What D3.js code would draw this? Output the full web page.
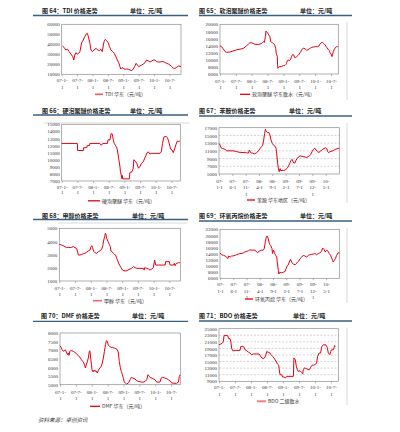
<!DOCTYPE html>
<html><head><meta charset="utf-8">
<script src="https://cdn.jsdelivr.net/npm/d3@7"></script>
<style>
body{margin:0;background:#fff}
svg{display:block}
.title{font-family:"Noto Sans CJK SC",sans-serif;font-size:6px;font-weight:700;fill:#222}
.tick text{font-family:"Liberation Serif",serif;font-size:5px;fill:#333}
.leg{font-family:"Noto Sans CJK SC",sans-serif;font-size:5px;fill:#333}
.foot{font-family:"Noto Sans CJK SC",sans-serif;font-size:5.5px;font-style:italic;fill:#333}
</style></head><body>
<svg id="c" width="400" height="432"></svg>
<script>
// ---------- data (month index from 2007-01, price in 元/吨) ----------
const tdiMonth=[0.3,0.9,1.6,2.3,2.9,3.6,4.3,4.7,5.1,5.6,6.1,6.6,7.1,7.8,8.4,9.0,9.5,10.0,10.4,11.0,11.4,11.9,12.6,13.4,14.0,14.7,15.3,15.8,16.5,17.0,17.5,18.1,18.6,19.2,19.9,20.5,21.0,21.7,22.2,22.7,23.0,23.5,24.0,24.7,25.3,26.0,26.6,27.3,27.9,28.4,29.0,29.5,30.0,30.5,31.2,31.8,32.5,33.1,33.8,34.4,35.1,35.7,36.4,37.0,37.7,38.3,39.0,39.6,40.3,40.9,41.6,42.2,42.9,43.5,44.2,44.8,45.5,46.1,46.5];
const tdiPrice=[38300,37000,34300,35000,32700,30300,27700,24300,29300,31700,30000,31000,32700,41700,44300,47700,50000,51000,47700,41000,34300,32700,34300,36000,34300,33700,35000,32700,42700,45000,43700,41700,37700,34300,32700,31000,28300,24300,21700,17700,15300,16700,16000,15000,15300,15000,14300,13700,15300,17700,21000,19300,17700,18300,19300,20300,21700,24300,23300,22300,23300,24300,24300,22700,22300,22300,22700,22700,21700,21000,20300,19300,17700,16000,16000,17000,18300,18000,17700];

const softMonth=[0,0.6,1.3,1.9,2.5,3.8,5.0,6.3,7.6,8.8,9.5,10.1,10.7,11.3,12.0,12.6,13.2,14.5,15.8,16.1,16.4,16.8,17.2,17.4,17.8,18.2,18.5,18.9,19.2,19.5,19.9,20.3,20.7,21.1,21.3,21.7,21.8,21.9,22.2,22.7,23.3,24.0,24.6,25.0,25.2,25.5,25.9,26.2,26.7,27.1,27.5,27.9,28.2,28.6,29.0,29.5,30.0,30.3,30.6,30.9,31.5,32.2,32.8,33.3,33.8,34.3,34.8,35.3,36.3,36.9,37.5,37.8,38.3,38.8,39.3,39.8,40.4,40.9,41.4,41.7,42.1,42.4,42.6,42.9,43.3,43.6,44.1,44.6];
const softPrice=[13900,13700,13000,12300,12100,12200,12500,12800,13000,13200,13600,14000,14400,14800,14800,14600,14400,14300,14600,14900,15100,14900,16500,18100,17800,17300,17000,16500,15100,14900,14800,14600,14200,13200,11800,10900,8500,7600,7900,8100,8100,8400,8400,8700,9000,9800,9900,9700,10100,10900,11500,11400,10700,10600,10900,11200,11600,12000,12300,12800,13300,13100,12700,12800,13100,13300,13500,13600,13700,13700,13900,14400,14800,14900,14600,14200,13500,13000,12600,12000,11600,10900,11400,12300,13000,13300,13700,13700];

const hardMonth=[0,6.0,6.1,8.3,8.4,9.6,9.8,10.6,10.8,14.6,14.9,15.4,15.7,17.5,17.7,18.5,18.9,19.4,19.7,20.1,20.8,21.0,21.3,21.8,22.3,22.5,23.1,23.2,23.4,25.9,26.1,26.9,27.4,27.6,28.2,28.7,29.4,29.9,30.6,31.2,32.0,32.7,33.2,33.8,34.4,37.6,38.1,38.6,39.1,39.9,40.5,41.1,41.7,42.2,42.7,43.2,43.7,44.2,45.2];
const hardPrice=[12300,12300,11300,11300,11700,11700,12000,12000,12300,12300,12100,12100,12300,12300,12800,12800,13700,13600,12900,12300,11900,11800,11400,10200,9000,8300,7300,7800,7300,7300,8200,8300,8800,10000,9800,9500,8800,9000,9500,9700,10400,11000,11100,10800,10900,10900,11100,12300,13200,13300,13100,12400,11500,11400,11000,11500,12100,12600,12600];

const anilMonth=[0,0.4,0.75,1.4,2.25,2.9,5.4,6.6,7.9,10.4,11.0,11.4,11.9,12.6,13.25,14.1,14.75,15.4,16.0,16.4,16.75,17.1,17.4,17.6,18.1,18.75,19.1,19.5,20.0,20.4,21.0,21.4,21.6,22.0,22.25,22.4,22.6,22.9,23.1,24.1,24.75,25.1,25.6,26.1,26.6,27.0,27.4,27.75,28.1,28.5,28.9,29.4,29.9,30.4,31.6,32.9,33.4,33.9,34.4,34.9,35.4,35.9,36.4,36.9,37.4,37.9,38.4,38.9,39.9,40.4,40.75,41.1,41.6,42.6,43.6,44.6,45.1];
const anilPrice=[12900,12500,11800,11600,11400,11000,11000,10800,10600,10500,10400,11200,10500,10400,10200,10500,11000,11600,12100,12500,13800,15500,16600,16200,15800,15700,15100,13800,12900,12500,12200,11600,10400,7800,6500,5900,5600,6400,5900,5900,6000,6200,6500,7100,7900,8500,8800,8200,7800,7900,8600,9100,9500,9700,9500,9300,9500,9700,10100,10800,11400,11700,11200,10800,10600,10800,11200,11400,11800,11600,10800,10500,10800,11000,11400,11600,11700];

const methMonth=[0,0.9,1.5,2.2,2.8,3.4,4.1,4.7,5.4,6.0,6.6,7.3,7.9,8.5,9.2,9.8,10.4,11.1,11.7,12.1,12.5,12.7,13.2,13.6,14.3,14.9,15.5,16.2,16.6,16.9,17.3,17.6,17.8,18.1,18.6,19.1,19.5,19.7,20.1,20.6,21.0,21.5,21.9,22.2,22.7,23.2,23.6,24.1,24.7,25.5,26.2,27.0,27.6,28.3,28.9,29.6,32.1,32.4,32.6,33.4,34.0,34.6,35.3,35.9,36.4,36.8,40.4,40.6,42.0,42.3,43.6,43.9,44.2,44.6,45.5,46.1];
const methPrice=[3780,3730,3680,3610,3530,3560,3530,3560,3610,3530,3480,2970,2970,3020,3070,3100,3180,3280,3350,3610,3680,3530,3230,3150,3100,3230,3280,3430,3680,4040,4360,4620,4540,4240,3990,3780,3610,3280,3230,3100,3020,2970,2720,2590,2340,2140,2010,1830,1780,1760,1830,1910,1960,2090,2010,1960,1960,1830,2010,1960,1910,1830,1910,2010,2590,2210,2210,2470,2470,2210,2210,2340,2160,2320,2390,2390];

const poMonth=[0,0.6,1.3,1.9,2.5,2.9,3.3,3.8,4.4,5.0,5.7,6.3,6.9,7.5,8.2,8.8,9.4,10.1,10.7,11.3,11.9,12.6,13.2,13.8,14.2,14.6,15.1,15.7,16.3,16.7,17.1,17.5,17.8,18.2,18.5,18.8,19.2,19.6,19.8,20.2,20.6,21.0,21.4,21.6,22.0,22.2,22.6,23.2,23.9,24.5,24.9,25.4,25.8,26.1,26.6,27.1,27.6,28.3,28.6,29.1,29.6,30.2,30.8,31.4,32.0,32.7,33.3,33.9,34.5,35.2,35.8,36.4,37.1,37.7,38.3,38.7,39.2,39.7,40.2,40.8,41.2,41.7,42.1,42.5,42.7,43.1,43.5,44.0,44.5,45.0];
const poPrice=[14300,13700,13500,13300,12900,12400,13300,12900,13300,13300,13500,13700,13900,14100,14100,14300,14600,14800,15000,15300,15200,15200,15200,14600,14300,14800,15000,15200,15200,15700,17900,19600,19800,19000,17700,17000,16600,15700,14100,15200,14100,13500,12900,11300,8500,7400,8000,7800,8000,8200,9100,10200,10400,11300,12200,11100,10700,10400,10700,11100,11500,12400,12900,13500,13300,12900,13500,13700,13800,13900,14100,13700,14100,14300,14800,15900,15400,14600,15200,14800,14100,13500,12600,11800,11300,11800,12400,13500,14300,14300];

const dmfMonth=[0,0.4,0.8,1.3,1.6,2.0,2.4,2.8,3.2,3.4,3.7,4.0,4.5,5.0,5.5,6.1,6.6,7.1,7.6,8.1,8.6,9.0,9.3,9.6,10.0,10.3,10.7,11.1,11.3,11.6,11.9,12.1,12.5,12.9,13.2,13.6,14.1,14.6,15.1,15.6,16.0,16.4,16.8,17.2,17.5,17.9,18.3,18.7,19.3,19.8,20.4,21.1,21.7,22.1,22.4,22.8,23.2,23.6,24.0,24.3,24.7,25.2,25.9,26.5,27.0,27.5,28.4,29.0,29.6,30.9,31.5,32.2,32.8,33.3,33.8,34.3,34.8,35.3,35.9,36.6,37.8,38.3,38.8,39.6,40.4,41.0,41.9,42.2,43.5,44.1,44.8,45.1,45.5];
const dmfPrice=[7260,7170,7030,6940,6970,7030,6900,6740,6840,6700,6940,6970,6970,6940,6880,6820,6740,6640,6590,6450,6350,6260,6120,5970,6200,6320,6550,6940,6970,6550,6160,5870,5740,5850,5770,5810,5680,5870,5970,6060,6260,6550,6940,7320,7550,7520,7280,7230,7170,7170,7130,7090,7030,6840,6350,6010,5770,5580,5350,5150,5100,5040,5100,5290,5430,5390,5330,5230,5190,5150,5150,5190,5290,5580,5480,5390,5390,5330,5290,5150,5150,5390,5430,5390,5350,5290,5190,5100,5080,5080,5150,5480,5580];

const bdoMonth=[0,0.6,1.25,1.6,1.9,3.25,3.6,4.1,4.4,4.75,5.1,5.6,6.6,7.9,8.1,8.9,9.4,9.75,10.4,11.0,11.6,12.25,12.9,15.1,15.6,16.1,16.6,17.25,17.6,17.9,18.25,18.75,19.1,19.5,20.1,20.6,21.4,21.9,22.4,22.6,22.9,23.5,23.9,24.4,24.9,25.4,27.9,28.1,28.6,29.0,29.4,29.75,30.4,31.0,31.4,31.6,32.1,32.9,33.4,33.9,34.4,34.9,35.4,36.1,36.6,37.0,37.6,38.1,38.6,39.1,40.1,40.6,41.0,41.6,41.9,42.25,42.9,43.4,43.6];
const bdoPrice=[20100,20300,20600,21000,22900,22900,22000,22000,21200,19100,18300,18300,18400,18400,19500,19600,19400,18600,18300,17900,17600,17100,17300,17300,16600,16100,15900,16300,17100,18100,17900,17800,17600,17100,16600,16100,15100,14300,13900,12500,11000,11000,10300,10300,10000,10500,10500,16100,15600,13600,12500,12000,12200,11700,11200,12500,13100,12800,12600,12500,13300,13900,13900,14100,14600,16600,17600,17600,19600,20100,20100,19300,17600,17100,18100,18600,18600,19900,19600];

// tick labels
const halfYearTicks=[0,6,12,18,24,30,36,42];
const halfYearLabels=["07-1-1","07-7-1","08-1-1","08-7-1","09-1-1","09-7-1","10-1-1","10-7-1"];
const fiveMonthTicks=[0,5,10,15,20,25,30,35,40];
const fiveMonthLabels=["07-1-1","07-6-1","07-11-1","08-4-1","08-9-1","09-2-1","09-7-1","09-12-1","10-5-1"];
const tdiTicks=[10000,20000,30000,40000,50000,60000];
const softTicks=[6000,8000,10000,12000,14000,16000,18000,20000];
const hardTicks=[7000,8000,9000,10000,11000,12000,13000,14000,15000];
const anilTicks=[5000,7000,9000,11000,13000,15000,17000];
const methTicks=[1000,2000,3000,4000,5000];
const poTicks=[6000,8000,10000,12000,14000,16000,18000,20000,22000];
const dmfTicks=[5000,5500,6000,6500,7000,7500,8000];
const bdoTicks=[9000,11000,13000,15000,17000,19000,21000,23000,25000];

// ---------- drawing ----------
const svg=d3.select("#c");
const RED="#e60012";

function splitLabel(s,mode){
  const p=s.split("-");
  if(mode==="half") return [p[0]+"-"+p[1]+"-",p[2]];
  if(p[1].length>1) return [p[0]+"-",p[1]+"-",p[2]];
  return [p[0]+"-",p[1]+"-"+p[2]];
}

function panel(c){
  const g=svg.append("g");
  const [bx0,bx1,by0,by1]=c.box;
  const x=d3.scaleLinear().domain(c.xDomain).range([bx0,bx1]);
  const y=d3.scaleLinear().domain(c.yDomain).range([by1,by0]);
  (c.frames||[]).forEach(f=>g.append("line").attr("x1",f[0]).attr("y1",f[1]).attr("x2",f[2]).attr("y2",f[3])
      .attr("stroke","#cfcfcf").attr("stroke-width",0.8));
  g.append("text").attr("class","title").attr("x",c.titleX).attr("y",c.titleY).text(c.title);
  g.append("text").attr("class","title").attr("x",c.unitX).attr("y",c.titleY).text("单位：元/吨");
  g.append("line").attr("x1",c.hdr[0]).attr("x2",c.hdr[1]).attr("y1",c.hdr[2]).attr("y2",c.hdr[2])
    .attr("stroke","#3a5f86").attr("stroke-width",1.3);
  if(c.grid){
    g.append("g").selectAll("line").data(c.yTicks.slice(1,-1)).join("line")
      .attr("x1",bx0).attr("x2",bx1).attr("y1",d=>y(d)).attr("y2",d=>y(d))
      .attr("stroke","#b5b5b5").attr("stroke-width",0.6).attr("stroke-dasharray","2,1.5");
  }
  g.append("rect").attr("x",bx0).attr("y",by0).attr("width",bx1-bx0).attr("height",by1-by0)
    .attr("fill","none").attr("stroke","#8c8c8c").attr("stroke-width",0.7);
  const ya=g.append("g").attr("transform",`translate(${bx0},0)`)
    .call(d3.axisLeft(y).tickValues(c.yTicks).tickSize(0).tickPadding(2).tickFormat(d=>String(d)));
  ya.select(".domain").remove();
  const xa=g.append("g").attr("transform",`translate(0,${by1})`)
    .call(d3.axisBottom(x).tickValues(c.xTicks).tickSize(2).tickPadding(3).tickFormat((d,i)=>c.xLabels[i]));
  xa.select(".domain").remove();
  xa.selectAll(".tick line").attr("stroke","#777").attr("stroke-width",0.5);
  xa.selectAll(".tick text").each(function(d,i){
    const t=d3.select(this); const lines=splitLabel(c.xLabels[i],c.mode);
    t.text(null).attr("dy",null).attr("y",c.xlab0-by1);
    lines.forEach((l,k)=>t.append("tspan").attr("x",0).attr("y",c.xlab0-by1+k*c.xlabStep).text(l));
  });
  const data=d3.zip(c.months,c.prices);
  g.append("path").datum(data).attr("fill","none").attr("stroke",RED).attr("stroke-width",1)
    .attr("stroke-linejoin","round")
    .attr("d",d3.line().x(d=>x(d[0])).y(d=>y(d[1])));
  g.append("line").attr("x1",c.leg[0]).attr("x2",c.leg[1]).attr("y1",c.leg[2]).attr("y2",c.leg[2])
    .attr("stroke",c.legColor||RED).attr("stroke-width",c.legWidth||1.3);
  g.append("text").attr("class","leg").attr("x",c.leg[1]+2).attr("y",c.leg[2]+1.8).text(c.legText);
}

panel({title:"图 64：TDI 价格走势",titleX:42,unitX:130,titleY:13,hdr:[33,188,15.5],
  box:[61.7,181,24.3,74.3],xDomain:[0,46.5],yDomain:[10000,60000],yTicks:tdiTicks,
  xTicks:halfYearTicks,xLabels:halfYearLabels,mode:"half",xlab0:82.5,xlabStep:6.5,
  months:tdiMonth,prices:tdiPrice,leg:[95,103,94.3],legText:"TDI 华东（元/吨）",legColor:"#ef5a5a",legWidth:1.6});

panel({title:"图 65：软泡聚醚价格走势",titleX:199,unitX:300,titleY:13,hdr:[199,352,15.5],
  box:[220,338.3,24.3,74],xDomain:[0,44.8],yDomain:[6000,20000],yTicks:softTicks,
  xTicks:halfYearTicks,xLabels:halfYearLabels,mode:"half",xlab0:82.5,xlabStep:6.5,
  months:softMonth,prices:softPrice,leg:[240,250,94.3],legText:"软泡聚醚 华东散水（元/吨）",
  frames:[[347,22,347,100]]});

panel({title:"图 66：硬泡聚醚价格走势",titleX:42,unitX:130,titleY:113,hdr:[33,188,115],
  box:[61.7,180.3,124.3,181],xDomain:[0,45.4],yDomain:[7000,15000],yTicks:hardTicks,
  xTicks:halfYearTicks,xLabels:halfYearLabels,mode:"half",xlab0:188.5,xlabStep:5.5,
  months:hardMonth,prices:hardPrice,leg:[88,100,200.8],legText:"硬泡聚醚 华东（元/吨）",
  frames:[[44,123,189,123]]});

panel({title:"图 67：苯胺价格走势",titleX:199,unitX:289,titleY:113,hdr:[199,352,116],
  box:[219,339.3,127.7,174],xDomain:[0,45.1],yDomain:[5000,17000],yTicks:anilTicks,grid:true,
  xTicks:fiveMonthTicks,xLabels:fiveMonthLabels,mode:"five",xlab0:182.5,xlabStep:6.5,
  months:anilMonth,prices:anilPrice,leg:[247,255,200],legText:"苯胺 华东地区（元/吨）",
  frames:[[347,123,347,203]]});

panel({title:"图 68：甲醇价格走势",titleX:42,unitX:132,titleY:218,hdr:[33,188,219.5],
  box:[59.3,180.3,228.3,281],xDomain:[0,46.2],yDomain:[1000,5000],yTicks:methTicks,
  xTicks:halfYearTicks,xLabels:halfYearLabels,mode:"half",xlab0:290,xlabStep:6,
  months:methMonth,prices:methPrice,leg:[93,102,300.7],legText:"甲醇 华东（元/吨）",legColor:"#ef6a6a",legWidth:1.6,
  frames:[[58,223,187,223]]});

panel({title:"图 69：环氧丙烷价格走势",titleX:199,unitX:300,titleY:218,hdr:[199,352,221],
  box:[220,339.3,229.3,278.3],xDomain:[0,45],yDomain:[6000,22000],yTicks:poTicks,
  xTicks:fiveMonthTicks,xLabels:fiveMonthLabels,mode:"five",xlab0:286.5,xlabStep:6.5,
  months:poMonth,prices:poPrice,leg:[245,253,299],legText:"环氧丙烷 华东（元/吨）",
  frames:[[347,228,347,303]]});

panel({title:"图 70：DMF 价格走势",titleX:41,unitX:132,titleY:318,hdr:[33,188,321.3],
  box:[60,180.3,333,384.7],xDomain:[0,45.5],yDomain:[5000,8000],yTicks:dmfTicks,
  xTicks:halfYearTicks,xLabels:halfYearLabels,mode:"half",xlab0:394.5,xlabStep:6,
  months:dmfMonth,prices:dmfPrice,leg:[90,100,406.3],legText:"DMF 华东（元/吨）"});

panel({title:"图 71：BDO 价格走势",titleX:199,unitX:293,titleY:318,hdr:[199,352,321],
  box:[219,338.3,328.7,381.3],xDomain:[0,44.75],yDomain:[9000,25000],yTicks:bdoTicks,grid:true,
  xTicks:halfYearTicks,xLabels:halfYearLabels,mode:"half",xlab0:389.5,xlabStep:6.5,
  months:bdoMonth,prices:bdoPrice,leg:[257,266,401.3],legText:"BDO 二级散水",legColor:"#f08080",legWidth:2,
  frames:[[347,328,347,405]]});

svg.append("text").attr("class","foot").attr("x",38).attr("y",422).text("资料来源：卓创资讯");
</script>
</body></html>
